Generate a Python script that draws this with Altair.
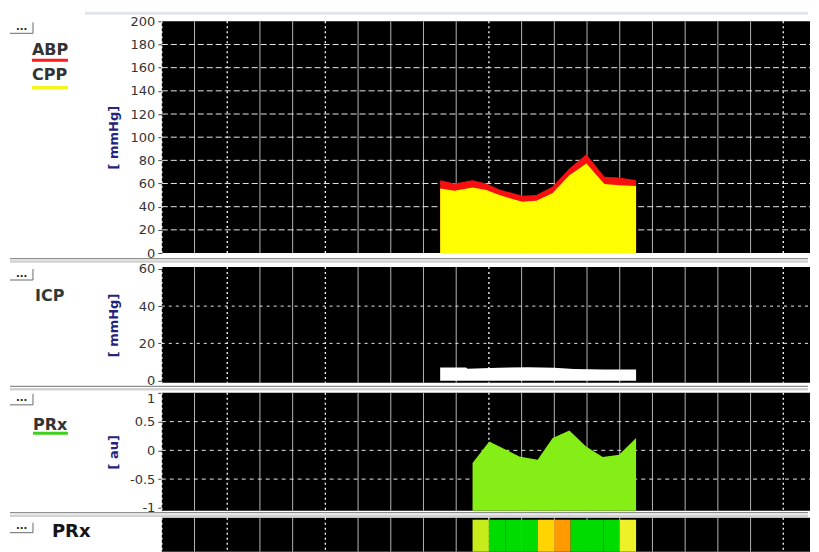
import altair as alt
import pandas as pd

# ---------------- data ----------------
# time axis in grid-interval units (one vertical grid line per unit)
abp_t = [8.51, 8.95, 9.50, 9.92, 10.32, 11.02, 11.45, 11.94, 12.46, 12.98, 13.53, 13.98, 14.50]
abp = [62.9, 60.1, 62.9, 60.1, 54.9, 49.4, 50.0, 57.2, 73.0, 85.3, 65.8, 65.3, 62.9]
cpp = [55.8, 53.7, 56.6, 54.3, 50.0, 44.2, 45.1, 51.5, 67.2, 77.3, 59.5, 58.6, 57.8]

icp_t = [8.51, 9.3, 9.35, 10.3, 11.2, 12.0, 12.6, 13.5, 14.5]
icp = [7.0, 7.0, 6.4, 6.9, 7.2, 6.9, 6.2, 6.0, 6.0]

prx_t = [9.50, 10.01, 10.52, 10.93, 11.49, 11.95, 12.46, 12.97, 13.48, 13.98, 14.50]
prx = [-0.22, 0.155, 0.01, -0.106, -0.163, 0.214, 0.345, 0.068, -0.116, -0.076, 0.214]

cell_start = [9.5, 10.0, 10.5, 11.0, 11.5, 12.0, 12.5, 13.0, 13.5, 14.0]
cell_end = [10.0, 10.5, 11.0, 11.5, 12.0, 12.5, 13.0, 13.5, 14.0, 14.5]
cell_prx = [0.12, -0.02, -0.08, -0.12, 0.27, 0.36, 0.0, -0.05, -0.06, 0.22]

grid_major = [0, 2, 5, 10, 19]
grid_minor = [1, 3, 4, 6, 7, 8, 9, 11, 12, 13, 14, 15, 16, 17, 18]

abp_ticks = [0, 20, 40, 60, 80, 100, 120, 140, 160, 180, 200]
icp_ticks = [0, 20, 40, 60]
prx_ticks = [-1, -0.5, 0, 0.5, 1]

names = ["ABP", "CPP", "ICP", "PRx"]

# ---------------- layout ----------------
W = 649
H1, H2, H3, H4 = 232, 116, 118, 34
XDOM = [0, W / 32.75]
FONT = "DejaVu Sans"

xs = alt.Scale(domain=XDOM, nice=False, zero=False)


def X(f):
    return alt.X(f, type="quantitative", scale=xs, axis=None)


def yaxis(title, vals, h, flush=False):
    return alt.Axis(title=title, values=vals, grid=False, domain=False, ticks=True,
                    tickSize=4, tickColor="#404040", tickWidth=1,
                    labelFont=FONT, labelFontSize=13, labelColor="#333333", labelPadding=3,
                    labelExpr="'' + datum.value", labelOverlap=False, labelFlush=flush,
                    titleFont=FONT, titleFontSize=13, titleFontWeight="bold", titleColor="#24247c",
                    titleAngle=-90, titleX=-48.5, titleY=h / 2, titleAlign="center",
                    titleBaseline="middle")


dummy = pd.DataFrame({"k": [0]})


def txt(s, x, y, size=16, color="#333333", weight="bold"):
    return alt.Chart(dummy).mark_text(text=s, align="left", baseline="alphabetic", fontSize=size,
                                      font=FONT, fontWeight=weight, color=color).encode(
        x=alt.value(x), y=alt.value(y))


def hline(x1, x2, y, color, w):
    return alt.Chart(dummy).mark_rule(color=color, strokeWidth=w).encode(
        x=alt.value(x1), x2=alt.value(x2), y=alt.value(y))


def vline(x, y1, y2, color, w):
    return alt.Chart(dummy).mark_rule(color=color, strokeWidth=w).encode(
        x=alt.value(x), y=alt.value(y1), y2=alt.value(y2))


def button(top, bottom):
    return [vline(-129, top, bottom, "#6a6a6a", 1), hline(-152, -129, bottom, "#6a6a6a", 1),
            txt("...", -146, bottom - 3.5, 10, "#222222", "bold")]


def vgrid(h):
    minor = alt.Chart(pd.DataFrame({"t": grid_minor})).mark_rule(color="#b4b4b4", strokeWidth=1).encode(
        x=X("t"), y=alt.value(0), y2=alt.value(h))
    major = alt.Chart(pd.DataFrame({"t": grid_major})).mark_rule(
        color="#ffffff", strokeWidth=1.3, strokeDash=[2, 3]).encode(
        x=X("t"), y=alt.value(0), y2=alt.value(h))
    return [minor, major]


def hgrid(vals, ysc, yax, dash):
    return alt.Chart(pd.DataFrame({"v": vals})).mark_rule(
        color="#e6e6e6", strokeWidth=1, strokeDash=dash).encode(
        y=alt.Y("v:Q", scale=ysc, axis=yax), x=alt.value(0), x2=alt.value(W))


def separators(h, gap):
    return [hline(-152, W - 2, h + gap, "#8e8e8e", 1.2), hline(-152, W - 2, h + gap + 3, "#d2d2d2", 2.5)]


# ---------------- panel 1: ABP / CPP ----------------
y1s = alt.Scale(domain=[0, 200], nice=False, zero=False)
y1a = yaxis("[ mmHg]", abp_ticks, H1)
df1 = pd.DataFrame({"t": abp_t, "abp": abp, "cpp": cpp})
p1 = alt.layer(
    hline(-153.5, -120, -12.5, "#ffffff", 1),
    hline(-77, W - 2, -8, "#dfe5ea", 3),
    *vgrid(H1),
    hgrid(abp_ticks[1:-1], y1s, y1a, [6, 3]),
    alt.Chart(df1).mark_area(color="#f81010", opacity=1).encode(
        x=X("t"), y=alt.Y("abp:Q", scale=y1s, axis=y1a), y2=alt.datum(0)),
    alt.Chart(df1).mark_area(color="#ffff00", opacity=1).encode(
        x=X("t"), y=alt.Y("cpp:Q", scale=y1s, axis=y1a), y2=alt.datum(0)),
    *button(1, 12),
    txt(names[0], -130, 34),
    hline(-130, -94, 39, "#ff1a1a", 3),
    txt(names[1], -130, 59),
    hline(-130, -94, 66.3, "#f5f51a", 3),
    *separators(H1, 5.5),
).properties(width=W, height=H1)

# ---------------- panel 2: ICP ----------------
y2s = alt.Scale(domain=[-1.2, 61], nice=False, zero=False)
y2a = yaxis("[ mmHg]", icp_ticks, H2)
df2 = pd.DataFrame({"t": icp_t, "icp": icp})
p2 = alt.layer(
    *vgrid(H2),
    hgrid([20, 40], y2s, y2a, [3, 4]),
    alt.Chart(df2).mark_area(color="#ffffff", opacity=1).encode(
        x=X("t"), y=alt.Y("icp:Q", scale=y2s, axis=y2a), y2=alt.datum(0)),
    *button(2, 13),
    txt(names[2], -127, 34, 16, "#2c3c3c"),
    *separators(H2, 3.5),
).properties(width=W, height=H2)

# ---------------- panel 3: PRx ----------------
y3s = alt.Scale(domain=[-1.05, 1.0], nice=False, zero=False)
y3a = yaxis("[ au]", prx_ticks, H3, flush=True)
df3 = pd.DataFrame({"t": prx_t, "prx": prx})
p3 = alt.layer(
    *vgrid(H3),
    hgrid([-0.5, 0, 0.5], y3s, y3a, [4, 4]),
    alt.Chart(df3).mark_area(color="#84ee16", opacity=1).encode(
        x=X("t"), y=alt.Y("prx:Q", scale=y3s, axis=y3a), y2=alt.datum(-1.05)),
    *button(1, 12),
    txt(names[3], -129, 37.5),
    hline(-129, -94, 40.5, "#3fcf1f", 3),
    *separators(H3, 2),
).properties(width=W, height=H3)

# ---------------- panel 4: PRx heat strip ----------------
df4 = pd.DataFrame({"t0": cell_start, "t1": cell_end, "prx": cell_prx})
p4 = alt.layer(
    *vgrid(H4),
    alt.Chart(df4).mark_rect().encode(
        x=X("t0"), x2="t1", y=alt.value(2), y2=alt.value(H4),
        color=alt.Color("prx:Q", legend=None, scale=alt.Scale(
            type="threshold", domain=[0.05, 0.2, 0.25, 0.3],
            range=["#00dc00", "#c6ec1c", "#eef028", "#ffd400", "#ff9a00"]))),
    *button(5, 15),
    txt(names[3], -110, 19, 18, "#151515"),
).properties(width=W, height=H4)

inner2 = alt.vconcat(p3, p4, spacing=7, bounds="flush")
inner1 = alt.vconcat(p2, inner2, spacing=10, bounds="flush")
chart = alt.vconcat(p1, inner1, spacing=14, bounds="flush").properties(padding=0).configure_view(
    fill="#000000", strokeWidth=0)

chart.save("out.html", embed_options={"renderer": "svg", "actions": False})
